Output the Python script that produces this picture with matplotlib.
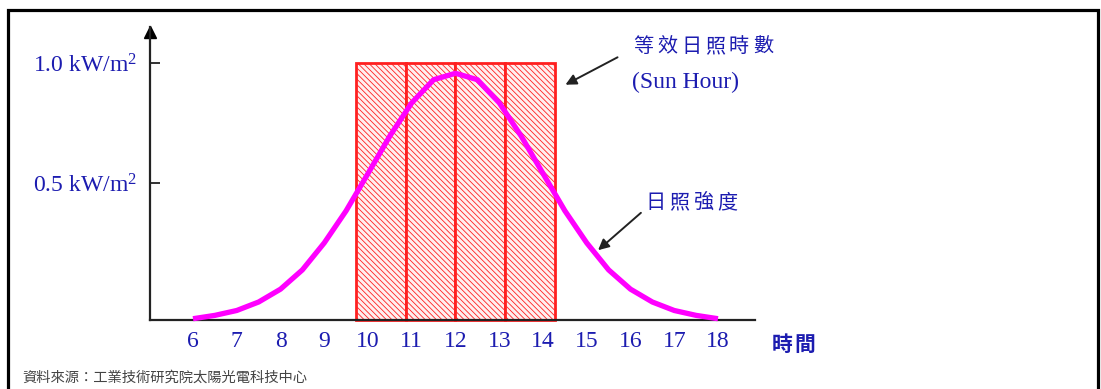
import matplotlib
matplotlib.use("Agg")
import matplotlib.pyplot as plt
from matplotlib.patches import Rectangle

# ---- data ----
hours = [6, 6.5, 7, 7.5, 8, 8.5, 9, 9.5, 10, 10.5, 11, 11.5, 12,
         12.5, 13, 13.5, 14, 14.5, 15, 15.5, 16, 16.5, 17, 17.5, 18]
irradiance = [0.005, 0.018, 0.037, 0.07, 0.12, 0.195, 0.30, 0.425, 0.57, 0.716, 0.845, 0.935, 0.96,
              0.935, 0.845, 0.716, 0.57, 0.425, 0.30, 0.195, 0.12, 0.07, 0.037, 0.018, 0.005]
tick_hours = [6, 7, 8, 9, 10, 11, 12, 13, 14, 15, 16, 17, 18]
tick_labels = [str(h) for h in tick_hours]
sun_hour_left = [9.72, 10.86, 12.0, 13.14]
sun_hour_width = [1.14, 1.14, 1.14, 1.14]
sun_hour_height = [1.0, 1.0, 1.0, 1.0]
ytick_vals = [0.533, 1.0]
ytick_labels = [r"0.5 kW/m$^{2}$", r"1.0 kW/m$^{2}$"]

W, H = 1101, 389
BLUE = "#1c1cb0"
SERIF = ["Liberation Serif", "DejaVu Serif"]
CJK = ["Noto Sans CJK TC", "DejaVu Sans"]
plt.rcParams["hatch.linewidth"] = 0.6
plt.rcParams["hatch.color"] = "#f05050"
plt.rcParams["mathtext.fontset"] = "custom"
plt.rcParams["mathtext.rm"] = "Liberation Serif"
plt.rcParams["mathtext.it"] = "Liberation Serif:italic"
plt.rcParams["mathtext.bf"] = "Liberation Serif:bold"
plt.rcParams["mathtext.default"] = "rm"

fig = plt.figure(figsize=(W / 100, H / 100), dpi=100)

def fx(x):
    return x / W

def fy(y):
    return (H - y) / H

# outer frame
fig.patches.append(Rectangle((fx(8), fy(H + 10)), fx(1098) - fx(8), fy(10) - fy(H + 10),
                             transform=fig.transFigure, fill=False, ec="black", lw=2.3))

ax = fig.add_axes([fx(150), fy(320), fx(755) - fx(150), fy(27) - fy(320)])
ax.set_xlim(5.017, 18.846)
ax.set_ylim(0, 1.14)
for s in ["top", "right"]:
    ax.spines[s].set_visible(False)
ax.spines["left"].set_color("#222222")
ax.spines["bottom"].set_color("#222222")
ax.spines["left"].set_linewidth(1.6)
ax.spines["bottom"].set_linewidth(1.6)
ax.set_facecolor("none")

# arrow head on y axis
ax.plot([5.017], [1.12], marker="^", color="black", markersize=8, clip_on=False)

# bars (sun hours)
ax.bar(sun_hour_left, sun_hour_height, width=sun_hour_width, align="edge",
       facecolor="#fff0f0", edgecolor="#ff2020", linewidth=2, hatch="\\\\\\\\\\\\",
       zorder=2, clip_on=False)

# irradiance curve
ax.plot(hours, irradiance, color="#ff00ff", lw=3.8, solid_capstyle="butt",
        solid_joinstyle="round", zorder=3, clip_on=False)

ax.set_xticks(tick_hours)
ax.set_xticklabels(tick_labels, family=SERIF, fontsize=17, color=BLUE)
ax.tick_params(axis="x", length=0, pad=8)
ax.set_yticks(ytick_vals)
ax.set_yticklabels(ytick_labels, family=SERIF, fontsize=17, color=BLUE)
ax.tick_params(axis="y", direction="in", length=7, width=1.3, color="#222222", pad=9)

# annotations
def spaced(text, x0, y, step, size, **kw):
    for i, ch in enumerate(text):
        fig.text(fx(x0 + i * step), fy(y), ch, ha="center", va="center",
                 fontsize=size, family=CJK, color=BLUE, **kw)

spaced("等效日照時數", 643, 47, 24, 14.5)
fig.text(fx(685), fy(82), "(Sun Hour)", ha="center", va="center",
         fontsize=17, family=SERIF, color=BLUE)
spaced("日照強度", 655, 203, 24, 14.5)
spaced("時間", 782, 344, 23, 15, fontweight="bold")

fig.text(fx(22), fy(378), "資料來源：工業技術研究院太陽光電科技中心", ha="left", va="center",
         fontsize=10.3, family=CJK, color="#444444")

arrow = dict(arrowstyle="-|>", color="#222222", lw=1.4, mutation_scale=16)
fig.add_artist(plt.Annotation("", xy=(fx(563), fy(86)), xytext=(fx(620), fy(56)),
                              xycoords="figure fraction", textcoords="figure fraction",
                              arrowprops=arrow))
fig.add_artist(plt.Annotation("", xy=(fx(596), fy(252)), xytext=(fx(643), fy(211)),
                              xycoords="figure fraction", textcoords="figure fraction",
                              arrowprops=arrow))

fig.savefig("out.png", dpi=100, facecolor="white")
